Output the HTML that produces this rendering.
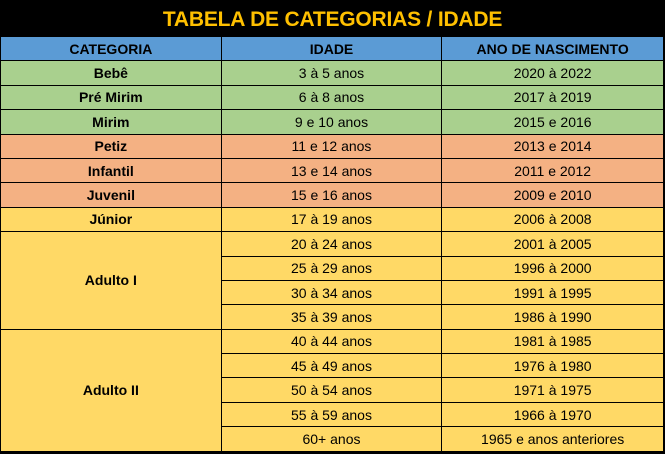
<!DOCTYPE html>
<html><head><meta charset="utf-8"><style>
html,body{margin:0;padding:0;background:#000;width:665px;height:454px;overflow:hidden}
.title{position:absolute;left:0;top:8px;width:665px;height:24px;line-height:24px;text-align:center;color:#ffc000;font:bold 21px "Liberation Sans",sans-serif;letter-spacing:-0.2px}
table{position:absolute;left:0;top:36px;border-collapse:collapse;width:664px;font:14px "Liberation Sans",sans-serif;color:#000}
td{border:1px solid #000;height:23.4px;padding:0;text-align:center;line-height:22px}
td.c{font-weight:bold}
tr.h td{background:#5b9bd5;font-weight:bold}
.g td{background:#a9d08e}.o td{background:#f4b183}.y td{background:#ffd966}
</style></head><body>
<div class="title">TABELA DE CATEGORIAS / IDADE</div>
<table>
<colgroup><col style="width:221px"><col style="width:221px"><col style="width:222px"></colgroup>
<tr class="h"><td>CATEGORIA</td><td>IDADE</td><td>ANO DE NASCIMENTO</td></tr>
<tr class="g"><td class="c">Bebê</td><td>3 à 5 anos</td><td>2020 à 2022</td></tr>
<tr class="g"><td class="c">Pré Mirim</td><td>6 à 8 anos</td><td>2017 à 2019</td></tr>
<tr class="g"><td class="c">Mirim</td><td>9 e 10 anos</td><td>2015 e 2016</td></tr>
<tr class="o"><td class="c">Petiz</td><td>11 e 12 anos</td><td>2013 e 2014</td></tr>
<tr class="o"><td class="c">Infantil</td><td>13 e 14 anos</td><td>2011 e 2012</td></tr>
<tr class="o"><td class="c">Juvenil</td><td>15 e 16 anos</td><td>2009 e 2010</td></tr>
<tr class="y"><td class="c">Júnior</td><td>17 à 19 anos</td><td>2006 à 2008</td></tr>
<tr class="y"><td class="c" rowspan="4">Adulto I</td><td>20 à 24 anos</td><td>2001 à 2005</td></tr>
<tr class="y"><td>25 à 29 anos</td><td>1996 à 2000</td></tr>
<tr class="y"><td>30 à 34 anos</td><td>1991 à 1995</td></tr>
<tr class="y"><td>35 à 39 anos</td><td>1986 à 1990</td></tr>
<tr class="y"><td class="c" rowspan="5">Adulto II</td><td>40 à 44 anos</td><td>1981 à 1985</td></tr>
<tr class="y"><td>45 à 49 anos</td><td>1976 à 1980</td></tr>
<tr class="y"><td>50 à 54 anos</td><td>1971 à 1975</td></tr>
<tr class="y"><td>55 à 59 anos</td><td>1966 à 1970</td></tr>
<tr class="y"><td>60+ anos</td><td>1965 e anos anteriores</td></tr>
</table>
</body></html>
